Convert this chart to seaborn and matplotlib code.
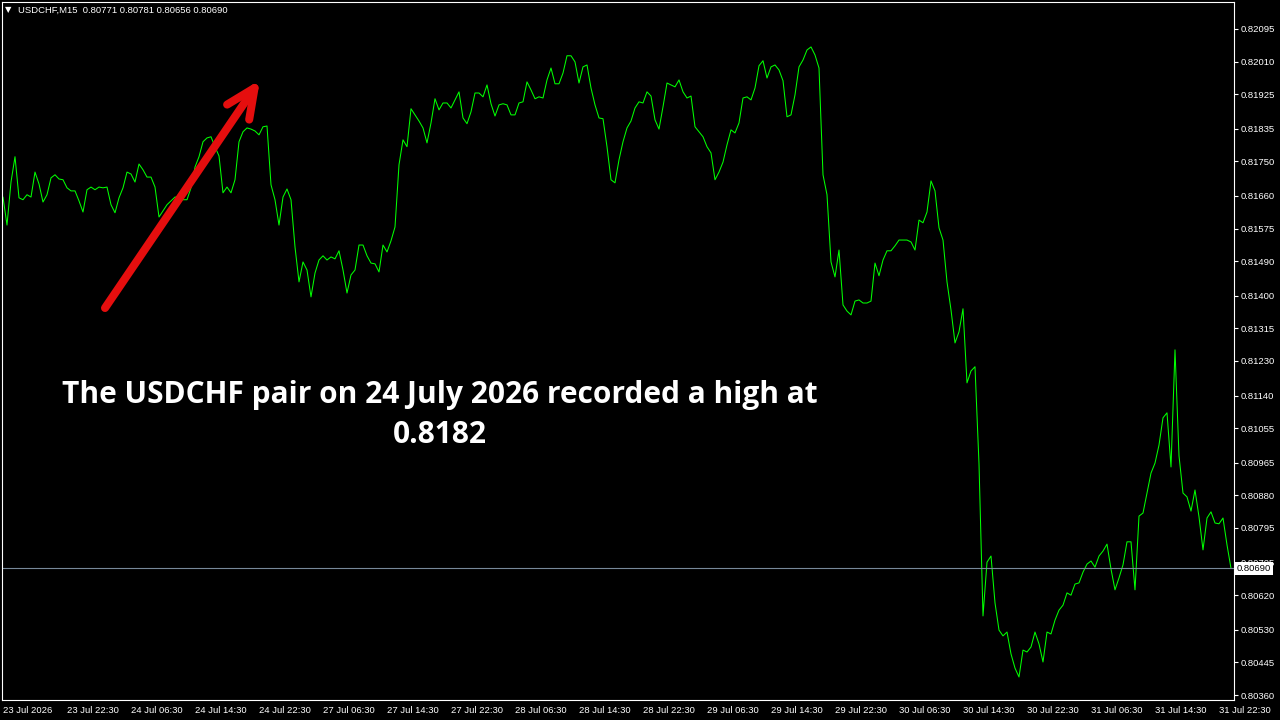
import numpy as np
import pandas as pd
import seaborn as sns
import matplotlib.pyplot as plt

close = [
    0.81657, 0.81584, 0.81696, 0.81762, 0.81655, 0.81650, 0.81663, 0.81657, 0.81722, 0.81691,
    0.81644, 0.81663, 0.81707, 0.81715, 0.81704, 0.81702, 0.81681, 0.81673, 0.81673, 0.81647,
    0.81618, 0.81676, 0.81683, 0.81676, 0.81683, 0.81681, 0.81683, 0.81637, 0.81616, 0.81655,
    0.81681, 0.81722, 0.81717, 0.81696, 0.81743, 0.81728, 0.81709, 0.81709, 0.81683, 0.81605,
    0.81621, 0.81637, 0.81647, 0.81657, 0.81657, 0.81650, 0.81650, 0.81681, 0.81735, 0.81762,
    0.81801, 0.81811, 0.81814, 0.81788, 0.81764, 0.81668, 0.81683, 0.81668, 0.81702, 0.81801,
    0.81827, 0.81837, 0.81834, 0.81829, 0.81819, 0.81840, 0.81842, 0.81689, 0.81650, 0.81584,
    0.81657, 0.81678, 0.81650, 0.81527, 0.81436, 0.81488, 0.81467, 0.81397, 0.81459, 0.81493,
    0.81504, 0.81493, 0.81501, 0.81496, 0.81517, 0.81467, 0.81407, 0.81454, 0.81467, 0.81532,
    0.81532, 0.81504, 0.81485, 0.81483, 0.81462, 0.81532, 0.81514, 0.81543, 0.81579, 0.81741,
    0.81806, 0.81788, 0.81887, 0.81871, 0.81855, 0.81837, 0.81798, 0.81850, 0.81913, 0.81884,
    0.81902, 0.81902, 0.81889, 0.81910, 0.81931, 0.81863, 0.81848, 0.81879, 0.81928, 0.81928,
    0.81918, 0.81949, 0.81900, 0.81868, 0.81897, 0.81900, 0.81897, 0.81871, 0.81871, 0.81902,
    0.81905, 0.81957, 0.81936, 0.81913, 0.81918, 0.81915, 0.81962, 0.81993, 0.81952, 0.81952,
    0.81980, 0.82025, 0.82025, 0.82009, 0.81954, 0.81996, 0.82001, 0.81941, 0.81897, 0.81863,
    0.81861, 0.81788, 0.81702, 0.81694, 0.81754, 0.81801, 0.81837, 0.81855, 0.81889, 0.81905,
    0.81902, 0.81931, 0.81920, 0.81858, 0.81834, 0.81892, 0.81954, 0.81949, 0.81944, 0.81962,
    0.81931, 0.81915, 0.81920, 0.81840, 0.81827, 0.81814, 0.81788, 0.81772, 0.81702, 0.81722,
    0.81748, 0.81793, 0.81832, 0.81824, 0.81850, 0.81915, 0.81918, 0.81910, 0.81941, 0.81999,
    0.82012, 0.81967, 0.81996, 0.82001, 0.81988, 0.81960, 0.81866, 0.81871, 0.81923, 0.81996,
    0.82014, 0.82040, 0.82048, 0.82027, 0.81993, 0.81715, 0.81663, 0.81488, 0.81449, 0.81519,
    0.81376, 0.81360, 0.81350, 0.81386, 0.81389, 0.81381, 0.81381, 0.81386, 0.81485, 0.81452,
    0.81493, 0.81517, 0.81517, 0.81530, 0.81545, 0.81545, 0.81545, 0.81540, 0.81519, 0.81597,
    0.81590, 0.81618, 0.81699, 0.81673, 0.81577, 0.81545, 0.81436, 0.81363, 0.81277, 0.81306,
    0.81366, 0.81173, 0.81204, 0.81215, 0.80962, 0.80566, 0.80706, 0.80722, 0.80600, 0.80529,
    0.80514, 0.80524, 0.80467, 0.80430, 0.80407, 0.80477, 0.80472, 0.80485, 0.80524, 0.80493,
    0.80446, 0.80524, 0.80519, 0.80555, 0.80581, 0.80594, 0.80626, 0.80620, 0.80649, 0.80652,
    0.80680, 0.80701, 0.80709, 0.80693, 0.80722, 0.80735, 0.80753, 0.80688, 0.80634, 0.80665,
    0.80699, 0.80759, 0.80759, 0.80634, 0.80826, 0.80834, 0.80886, 0.80938, 0.80964, 0.81011,
    0.81082, 0.81095, 0.80954, 0.81259, 0.80983, 0.80886, 0.80876, 0.80839, 0.80894, 0.80824,
    0.80738, 0.80821, 0.80837, 0.80808, 0.80806, 0.80821, 0.80751, 0.80690,
]
bar_step = 2  # bars between samples

time_labels = ["23 Jul 2026", "23 Jul 22:30", "24 Jul 06:30", "24 Jul 14:30", "24 Jul 22:30",
               "27 Jul 06:30", "27 Jul 14:30", "27 Jul 22:30", "28 Jul 06:30", "28 Jul 14:30",
               "28 Jul 22:30", "29 Jul 06:30", "29 Jul 14:30", "29 Jul 22:30", "30 Jul 06:30",
               "30 Jul 14:30", "30 Jul 22:30", "31 Jul 06:30", "31 Jul 14:30", "31 Jul 22:30"]
bars_per_label = 32

price_ticks = [0.82095, 0.82010, 0.81925, 0.81835, 0.81750, 0.81660, 0.81575, 0.81490,
               0.81400, 0.81315, 0.81230, 0.81140, 0.81055, 0.80965, 0.80880, 0.80795,
               0.80705, 0.80620, 0.80530, 0.80445, 0.80360]

bid = 0.80690
header = "USDCHF,M15  0.80771 0.80781 0.80656 0.80690"
note = "The USDCHF pair on 24 July 2026 recorded a high at\n0.8182"

df = pd.DataFrame({"bar": np.arange(len(close)) * bar_step, "close": close})

sns.set_theme(style="dark", rc={
    "figure.facecolor": "black", "axes.facecolor": "black",
    "axes.edgecolor": "white", "axes.linewidth": 0.8, "axes.grid": False,
})
plt.rcParams["font.family"] = ["Liberation Sans", "DejaVu Sans"]

fig = plt.figure(figsize=(12.8, 7.2), dpi=100)
ax = fig.add_axes([2 / 1280, 20 / 720, 1232 / 1280, 698 / 720])

sns.lineplot(data=df, x="bar", y="close", ax=ax, color="#00ff00", linewidth=0.75)
ax.axhline(bid, color="#778899", linewidth=0.8)

ax.set_xlim(-0.5, 615.5)
ax.set_ylim(0.80347, 0.82165)
ax.set_xlabel("")
ax.set_ylabel("")

ax.set_xticks(np.arange(len(time_labels)) * bars_per_label)
ax.set_xticklabels(time_labels, ha="left")
ax.yaxis.tick_right()
ax.set_yticks(price_ticks)
ax.set_yticklabels([f"{p:.5f}" for p in price_ticks])
ax.tick_params(axis="both", colors="white", labelsize=6.8, direction="out",
               length=3, width=0.8, pad=2)
ax.tick_params(axis="x", pad=1)
for s in ax.spines.values():
    s.set_color("white")
    s.set_visible(True)

# current bid label covering the axis
ax.annotate(f"{bid:.5f}", xy=(1, bid), xycoords=("axes fraction", "data"),
            xytext=(3, 0), textcoords="offset pixels", ha="left", va="center",
            color="black", fontsize=6.8, zorder=10,
            bbox=dict(boxstyle="square,pad=0.2", fc="white", ec="none"))

# red arrow pointing to the high
ax.annotate("", xy=(128.5, 0.81962), xytext=(51, 0.81368),
            arrowprops=dict(arrowstyle="->,head_length=1.75,head_width=0.8",
                            color="#e50e0e", lw=5.8, capstyle="round",
                            joinstyle="round", shrinkA=0, shrinkB=0))

ax.text(0.3555, 0.408, note, transform=ax.transAxes, ha="center", va="center",
        color="white", fontsize=21.5, fontweight="bold", family="Open Sans",
        linespacing=1.45)

fig.text(5 / 1280, 1 - 10 / 720, "▼", color="white", fontsize=6, va="center",
         family=["DejaVu Sans"])
fig.text(18 / 1280, 1 - 10 / 720, header, color="white", fontsize=6.8, va="center")

fig.savefig("out.png", dpi=100, facecolor="black")
